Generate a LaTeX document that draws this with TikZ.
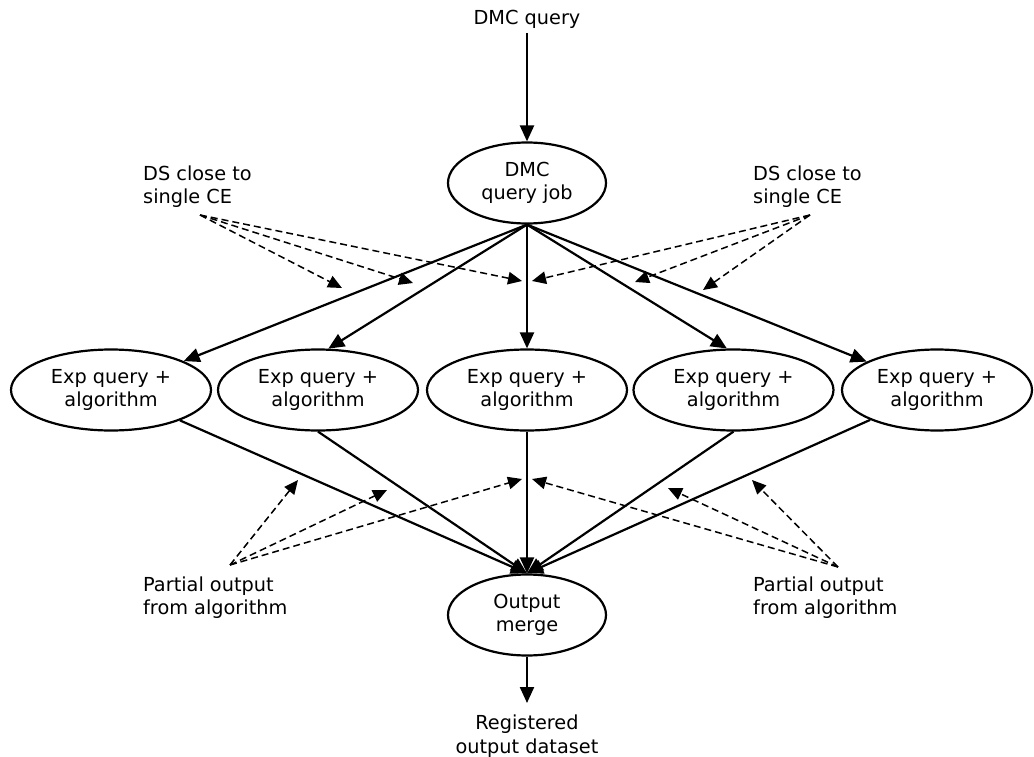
\documentclass[tikz,border=0pt]{standalone}
\usepackage{fontspec}
\setmainfont{DejaVu Sans}
\usetikzlibrary{arrows.meta,shapes.geometric}
\begin{document}
\begin{tikzpicture}[x=1pt,y=-1pt,
  every node/.style={font=\fontsize{19.3}{23.5}\selectfont},
  oval/.style={ellipse, draw, line width=2.2pt, inner sep=0pt, align=center, minimum height=81pt},
  smalloval/.style={oval, minimum width=158pt},
  wideoval/.style={oval, minimum width=200pt},
  lbl/.style={inner sep=0pt, align=left},
  flow/.style={line width=2.2pt, -{Triangle[length=16pt,width=14pt]}},
  hint/.style={line width=1.5pt, dash pattern=on 7pt off 4pt, -{Triangle[length=14pt,width=12.5pt]}}]
\fill[white] (0,0) rectangle (1034,757);
\useasboundingbox (0,0) rectangle (1034,757);

% nodes
\node[lbl] (query) at (527,19) {DMC query};
\coordinate (qend) at (527,33);
\node[smalloval] (job) at (527,183) {DMC\\query job};
\node[wideoval] (e1) at (111,390) {Exp query +\\algorithm};
\node[wideoval] (e2) at (318,390) {Exp query +\\algorithm};
\node[wideoval] (e3) at (527,390) {Exp query +\\algorithm};
\node[wideoval] (e4) at (733.5,390) {Exp query +\\algorithm};
\node[oval, minimum width=190pt] (e5) at (937,390) {Exp query +\\algorithm};
\node[smalloval] (merge) at (527,615) {Output\\merge};
\node[lbl, align=center] (reg) at (527,736) {Registered\\output dataset};
\coordinate (regend) at (527,703);

\node[lbl, anchor=west] (dsL) at (143,186.5) {DS close to\\single CE};
\node[lbl, anchor=west] (dsR) at (753,186.5) {DS close to\\single CE};
\node[lbl, anchor=west] (poL) at (143,597.5) {Partial output\\from algorithm};
\node[lbl, anchor=west] (poR) at (753,597.5) {Partial output\\from algorithm};

% solid flow
\draw[flow] (qend) -- (job);
\draw[flow] (job.south) -- (e1);
\draw[flow] (job.south) -- (e2.76);
\draw[flow] (job.south) -- (e3.north);
\draw[flow] (job.south) -- (e4.99);
\draw[flow] (job.south) -- (e5);
\draw[flow] (e1) -- (merge.north);
\draw[flow] (e2.south) -- (merge.north);
\draw[flow] (e3.south) -- (merge.north);
\draw[flow] (e4.south) -- (merge.north);
\draw[flow] (e5) -- (merge.north);
\draw[flow] (merge) -- (regend);

% dashed hints
\coordinate (dsl) at (200,215);
\coordinate (dsl1) at (342,288);
\coordinate (dsl2) at (413,283);
\coordinate (dsl3) at (522,281);
\coordinate (dsr) at (810,215);
\coordinate (dsr1) at (532,281);
\coordinate (dsr2) at (635,282);
\coordinate (dsr3) at (703,290);
\coordinate (pol) at (230,565);
\coordinate (pol1) at (298,480);
\coordinate (pol2) at (387,490);
\coordinate (pol3) at (522,479);
\coordinate (por) at (838,567);
\coordinate (por1) at (532,479);
\coordinate (por2) at (668,488);
\coordinate (por3) at (752,480);
\foreach \s in {dsl,dsr,pol,por}{
  \foreach \i in {1,2,3}{
    \draw[hint] (\s) -- (\s\i);
  }
}
\end{tikzpicture}
\end{document}
